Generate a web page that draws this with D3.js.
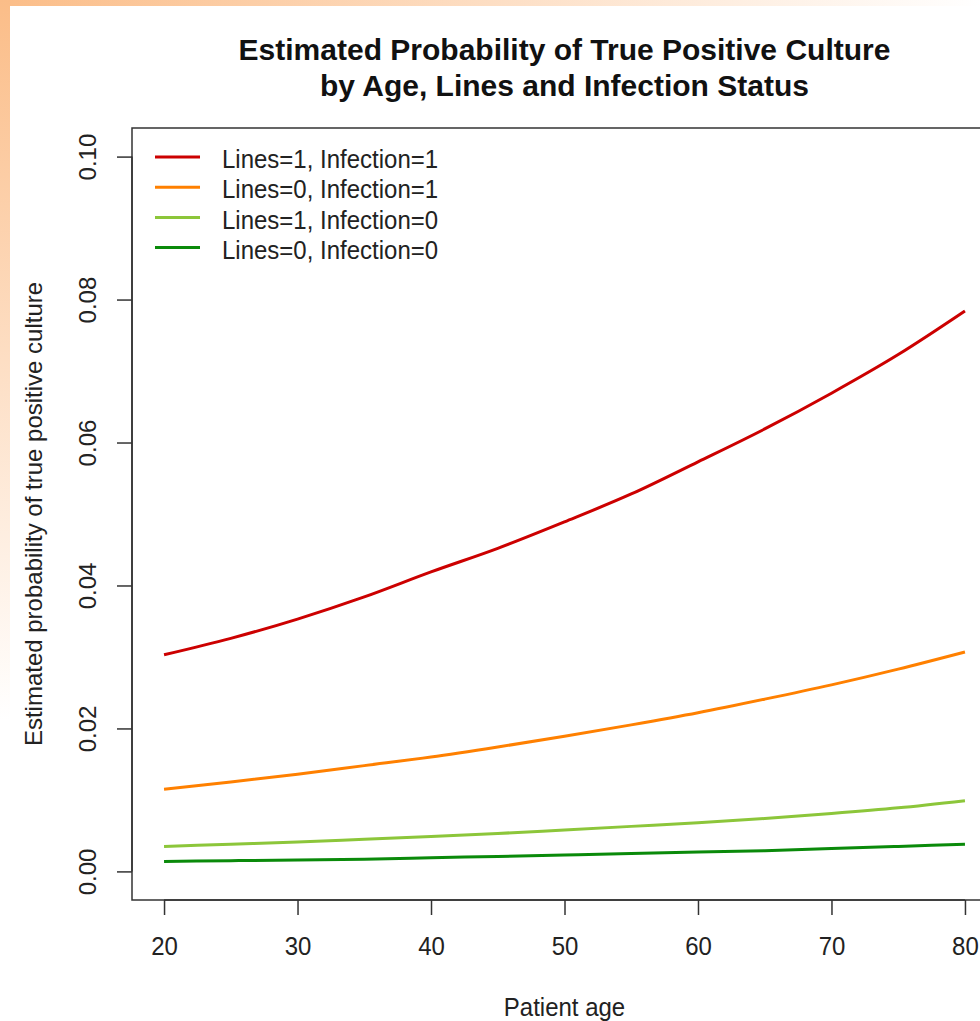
<!DOCTYPE html>
<html>
<head>
<meta charset="utf-8">
<script src="https://cdn.jsdelivr.net/npm/d3@7"></script>
<style>
  html, body { margin: 0; padding: 0; background: #fff; }
  svg { display: block; font-family: "Liberation Sans", Arial, sans-serif; }
</style>
</head>
<body>
<svg id="chart" width="980" height="1021"></svg>
<script>
// ---- data ----
const ages = [20, 25, 30, 35, 40, 45, 50, 55, 60, 65, 70, 75, 80];
const lines1Inf1 = [0.0303, 0.0326, 0.0353, 0.0384, 0.0419, 0.0452, 0.0489, 0.0528, 0.0573, 0.0619, 0.0669, 0.0723, 0.0784];
const lines0Inf1 = [0.0115, 0.0125, 0.0136, 0.0148, 0.0160, 0.0174, 0.0189, 0.0205, 0.0222, 0.0241, 0.0261, 0.0283, 0.0307];
const lines1Inf0 = [0.0035, 0.0038, 0.0041, 0.0045, 0.0049, 0.0053, 0.0058, 0.0063, 0.0068, 0.0074, 0.0081, 0.0089, 0.0099];
const lines0Inf0 = [0.0014, 0.0015, 0.0016, 0.0017, 0.0019, 0.0021, 0.0023, 0.0025, 0.0027, 0.0029, 0.0032, 0.0035, 0.0038];
const seriesNames = ["Lines=1, Infection=1", "Lines=0, Infection=1", "Lines=1, Infection=0", "Lines=0, Infection=0"];
const seriesColors = ["#cc0000", "#ff8000", "#8cc63a", "#0a8a0a"];
const xTicks = [20, 30, 40, 50, 60, 70, 80];
const yTicks = [0.00, 0.02, 0.04, 0.06, 0.08, 0.10];
const titleLines = ["Estimated Probability of True Positive Culture", "by Age, Lines and Infection Status"];
const xLabel = "Patient age";
const yLabel = "Estimated probability of true positive culture";

const seriesValues = [lines1Inf1, lines0Inf1, lines1Inf0, lines0Inf0];

const svg = d3.select("#chart");
const W = 980, H = 1021;
const stretch = 1.1; // reference text is slightly taller than wide

// ---- background frame (slide-like gradient) ----
const defs = svg.append("defs");
const gTop = defs.append("linearGradient").attr("id", "gTop").attr("x1", "0").attr("x2", "1").attr("y1", "0").attr("y2", "0");
gTop.append("stop").attr("offset", "0").attr("stop-color", "#fbbd88");
gTop.append("stop").attr("offset", "1").attr("stop-color", "#ffffff");
const gLeft = defs.append("linearGradient").attr("id", "gLeft").attr("x1", "0").attr("x2", "0").attr("y1", "0").attr("y2", "1");
gLeft.append("stop").attr("offset", "0").attr("stop-color", "#fbbd88");
gLeft.append("stop").attr("offset", "1").attr("stop-color", "#ffffff");
svg.append("rect").attr("x", 0).attr("y", 0).attr("width", W).attr("height", 6).attr("fill", "url(#gTop)");
svg.append("rect").attr("x", 0).attr("y", 0).attr("width", 10).attr("height", 720).attr("fill", "url(#gLeft)");

// ---- scales (R-style 4% extension) ----
const plotL = 132, plotR = 997, plotT = 128, plotB = 900;
const x = d3.scaleLinear().domain([17.6, 82.4]).range([plotL, plotR]);
const y = d3.scaleLinear().domain([-0.004, 0.104]).range([plotB, plotT]);

// ---- title ----
svg.append("g").selectAll("text").data(titleLines).join("text")
  .attr("x", (plotL + plotR) / 2)
  .attr("y", (d, i) => 60 + i * 36)
  .attr("text-anchor", "middle")
  .attr("font-size", 30)
  .attr("font-weight", "bold")
  .attr("fill", "#111")
  .text(d => d);

// ---- series lines ----
const line = d3.line().x(d => x(d[0])).y(d => y(d[1])).curve(d3.curveMonotoneX);
svg.append("g").selectAll("path").data(seriesValues).join("path")
  .attr("d", vals => line(ages.map((a, i) => [a, vals[i]])))
  .attr("fill", "none")
  .attr("stroke", (d, i) => seriesColors[i])
  .attr("stroke-width", 3);

// ---- axes ----
const axisColor = "#333";
const xAxis = svg.append("g").attr("transform", `translate(0,${plotB})`)
  .call(d3.axisBottom(x).tickValues(xTicks).tickSize(15).tickSizeOuter(0).tickFormat(d3.format("d")));
xAxis.select(".domain").attr("d", `M${x(20)},0H${x(80)}`).attr("stroke", axisColor).attr("stroke-width", 1.5);
xAxis.selectAll(".tick line").attr("stroke", axisColor).attr("stroke-width", 1.5);
xAxis.selectAll(".tick text")
  .attr("font-size", 24).attr("fill", "#222").attr("font-family", "Liberation Sans, Arial, sans-serif")
  .attr("y", null).attr("dy", "0.35em")
  .attr("transform", `translate(0,46) scale(1,${stretch})`);

const yAxis = svg.append("g").attr("transform", `translate(${plotL},0)`)
  .call(d3.axisLeft(y).tickValues(yTicks).tickSize(15).tickSizeOuter(0).tickFormat(d3.format(".2f")));
yAxis.select(".domain").attr("d", `M0,${y(0)}V${y(0.10)}`).attr("stroke", axisColor).attr("stroke-width", 1.5);
yAxis.selectAll(".tick line").attr("stroke", axisColor).attr("stroke-width", 1.5);
yAxis.selectAll(".tick text")
  .attr("font-size", 24).attr("fill", "#222").attr("font-family", "Liberation Sans, Arial, sans-serif")
  .attr("x", null).attr("dy", null)
  .attr("text-anchor", "middle")
  .attr("transform", "translate(-44,0) rotate(-90)")
  .attr("dy", "0.35em");

// ---- box ----
svg.append("rect")
  .attr("x", plotL).attr("y", plotT)
  .attr("width", plotR - plotL).attr("height", plotB - plotT)
  .attr("fill", "none").attr("stroke", axisColor).attr("stroke-width", 1.5);

// ---- axis titles ----
svg.append("text")
  .attr("transform", `translate(${(plotL + plotR) / 2},1016) scale(1,${stretch})`)
  .attr("text-anchor", "middle").attr("font-size", 24).attr("fill", "#222")
  .text(xLabel);
svg.append("text")
  .attr("transform", `translate(42,${(plotT + plotB) / 2}) rotate(-90)`)
  .attr("text-anchor", "middle").attr("font-size", 24).attr("fill", "#222")
  .text(yLabel);

// ---- legend ----
const leg = svg.append("g").selectAll("g").data(seriesNames).join("g")
  .attr("transform", (d, i) => `translate(0,${157 + i * 30.2})`);
leg.append("line").attr("x1", 155).attr("x2", 200).attr("y1", 0).attr("y2", 0)
  .attr("stroke", (d, i) => seriesColors[i]).attr("stroke-width", 3);
leg.append("text")
  .attr("transform", `translate(222,2) scale(1,${stretch})`)
  .attr("dy", "0.35em")
  .attr("font-size", 24).attr("fill", "#222").text(d => d);
</script>
</body>
</html>
